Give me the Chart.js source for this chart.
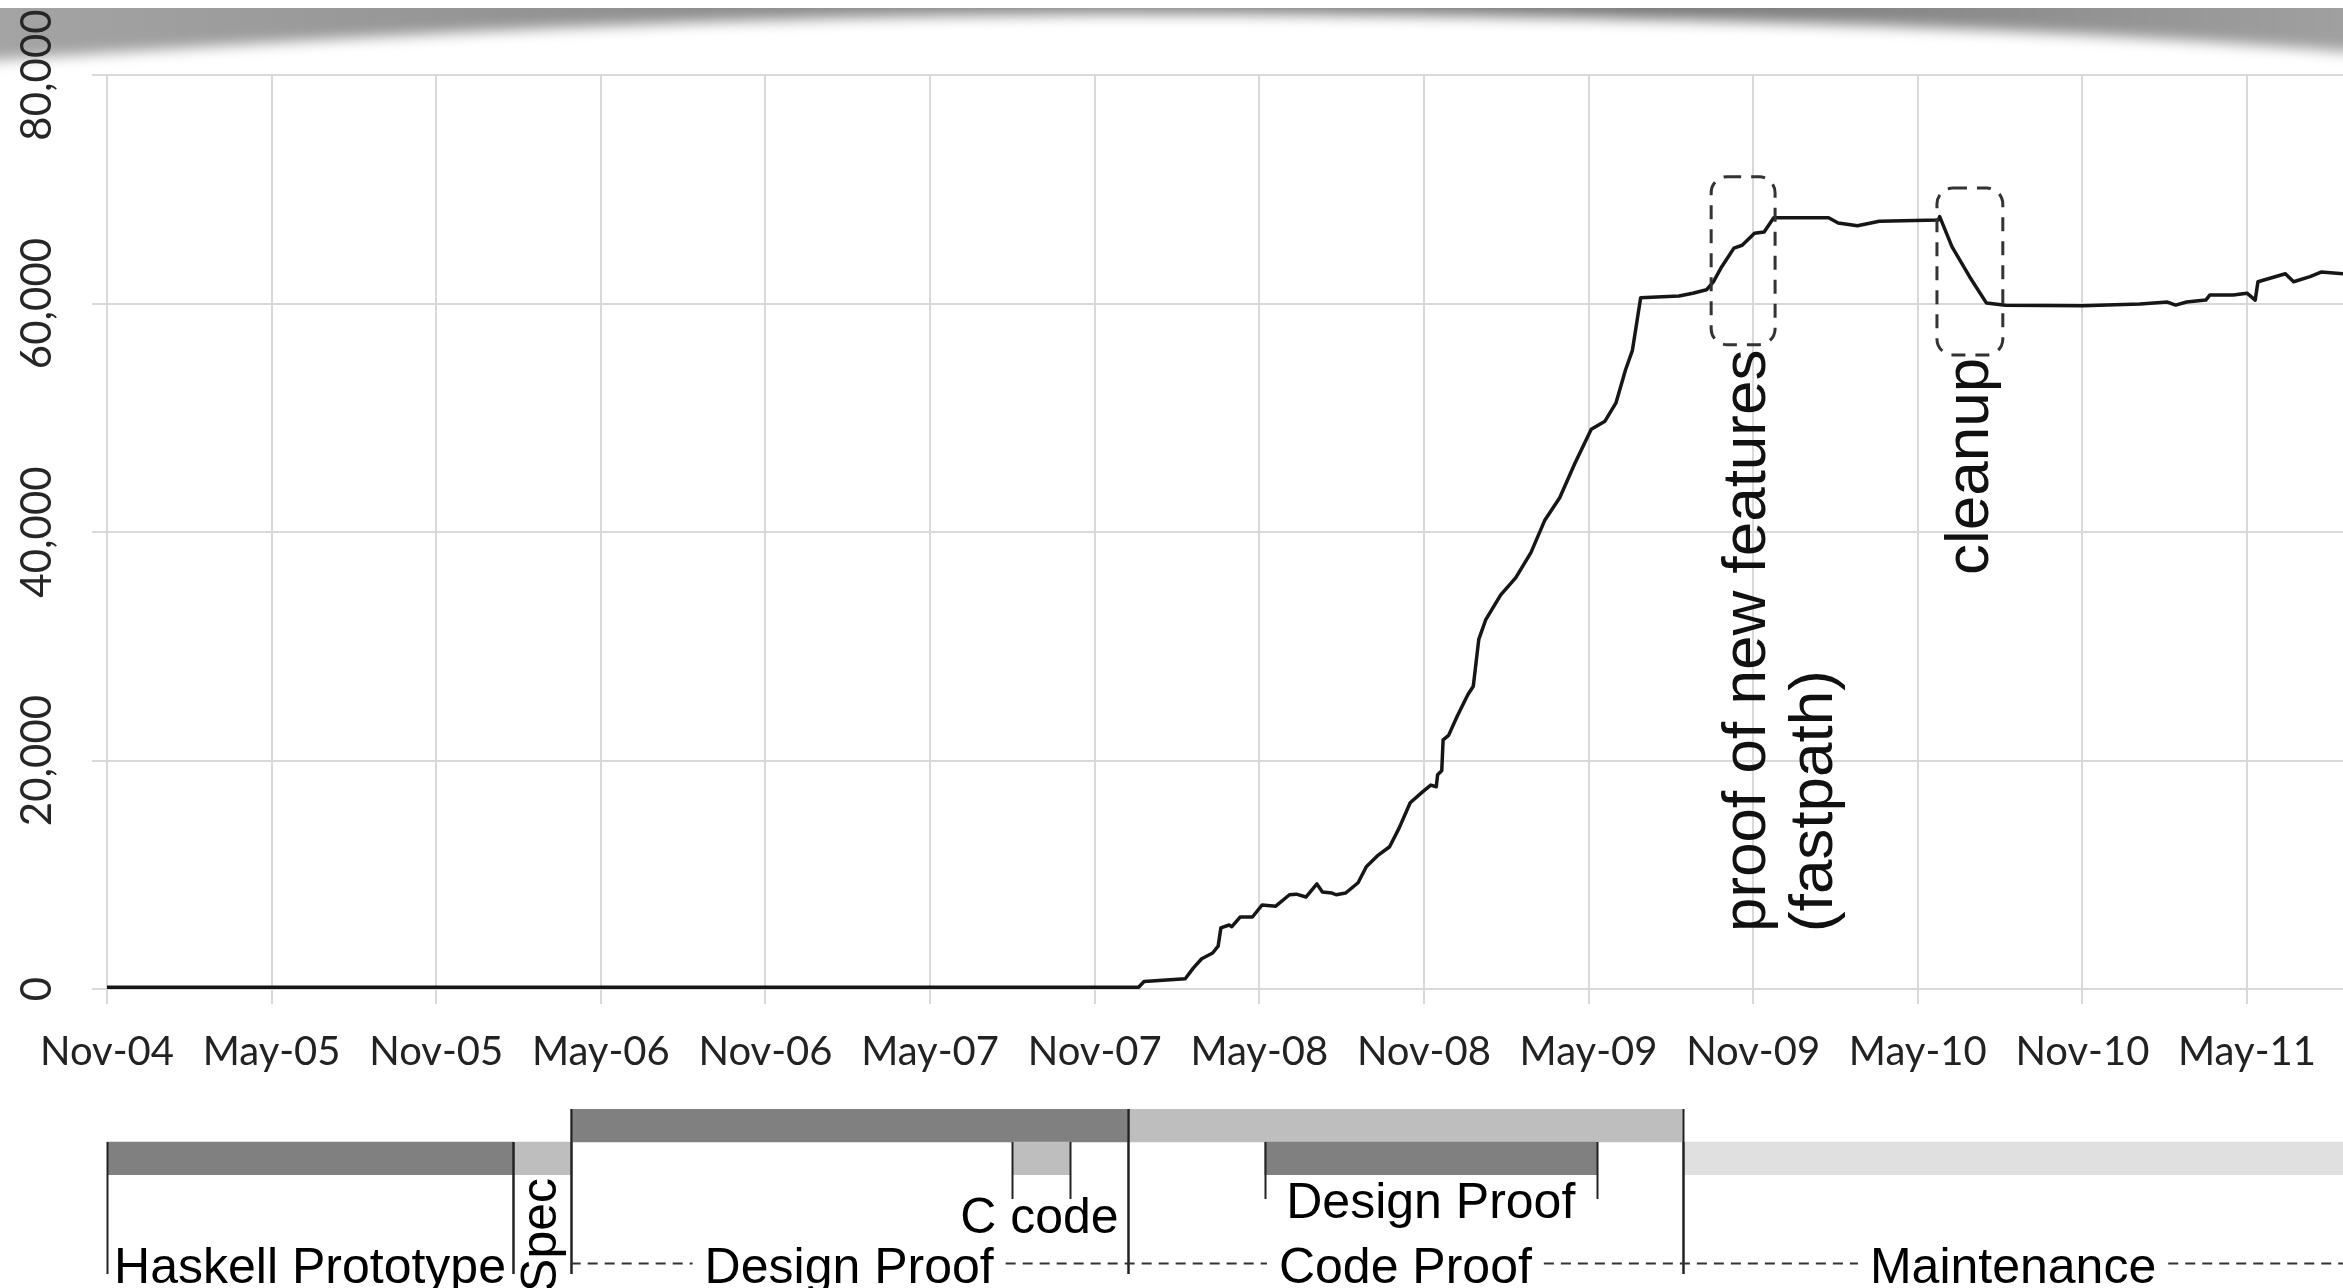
<!DOCTYPE html>
<html>
<head>
<meta charset="utf-8">
<script src="https://cdn.jsdelivr.net/npm/chart.js@4.4.1/dist/chart.umd.min.js"></script>
<style>
  html, body { margin: 0; padding: 0; background: #fff; }
  #wrap { position: relative; width: 2343px; height: 1288px; overflow: hidden; }
  #mainChart { position: absolute; left: 0; top: 0; }
  #phaseChart { position: absolute; left: 0; top: 1100px; }
</style>
</head>
<body>
<div id="wrap">
  <canvas id="mainChart" width="2343" height="1100"></canvas>
  <canvas id="phaseChart" width="2343" height="188"></canvas>
</div>
<script>
// x values are months counted from Nov 2004
const months = [0, 37.6, 37.8, 39.3, 39.6, 39.9, 40.3, 40.5, 40.6, 40.9, 41.0, 41.3, 41.75, 42.1, 42.6,
  43.1, 43.35, 43.7, 44.1, 44.3, 44.65, 44.8, 45.15, 45.6, 45.9, 46.3, 46.75, 47.1, 47.5, 47.95,
  48.25, 48.45, 48.5, 48.65, 48.7, 48.9, 49.2, 49.6, 49.8, 50.0, 50.25, 50.8, 51.35, 51.9, 52.4,
  52.95, 53.5, 54.1, 54.6, 55.0, 55.35, 55.6, 55.9, 57.3, 57.8, 58.3, 58.55, 58.85, 59.3, 59.6,
  60.05, 60.4, 60.75, 62.75, 63.1, 63.8, 64.6, 66.75, 66.8, 67.25, 67.9, 68.5, 69.2, 72.0, 74.1,
  75.1, 75.4, 75.8, 76.5, 76.65, 77.5, 78.0, 78.3, 78.4, 78.9, 79.4, 79.7, 80.3, 80.7, 81.5];
const proofLines = [150, 150, 650, 900, 1850, 2650, 3150, 3750, 5350, 5600, 5450, 6300, 6300, 7350, 7250,
  8250, 8300, 8050, 9200, 8500, 8400, 8250, 8400, 9300, 10700, 11650, 12450, 14100, 16300, 17250,
  17850, 17700, 18750, 19100, 21800, 22200, 23800, 25750, 26500, 30600, 32300, 34500, 36000, 38200, 41000,
  43000, 46000, 49000, 49700, 51300, 54200, 55900, 60500, 60650, 60900, 61200, 61900, 63200, 64850, 65100,
  66150, 66250, 67500, 67500, 67050, 66800, 67200, 67300, 67600, 64950, 62300, 60050, 59850, 59800, 59950,
  60130, 59860, 60130, 60300, 60750, 60750, 60900, 60300, 61900, 62250, 62600, 61900, 62350, 62750, 62600];

const xTickLabels = ['Nov-04', 'May-05', 'Nov-05', 'May-06', 'Nov-06', 'May-07', 'Nov-07',
  'May-08', 'Nov-08', 'May-09', 'Nov-09', 'May-10', 'Nov-10', 'May-11'];
const yTickLabels = ['0', '20,000', '40,000', '60,000', '80,000'];

// dashed callouts (months / lines)
const calloutX0 = [58.47, 66.7];
const calloutX1 = [60.8, 69.1];
const calloutYlow = [56400, 55500];
const calloutYhigh = [71100, 70100];
const noteLines = [['proof of new features', '(fastpath)'], ['cleanup']];
const noteX = [[59.82, 62.26], [67.94]];
const noteY = [4990, 36240];

// project phases
const phaseNames = ['Haskell Prototype', 'Spec', 'Design Proof', 'C code', 'Code Proof', 'Design Proof', 'Maintenance'];
const phaseStart = [0, 14.8, 16.9, 33.0, 37.2, 42.2, 57.45];
const phaseEnd = [14.8, 16.9, 37.2, 35.1, 57.45, 54.3, 81.5];
const phaseRow = ['lower', 'lower', 'upper', 'lower', 'upper', 'lower', 'lower'];
const phaseShade = ['dark', 'light', 'dark', 'light', 'light', 'dark', 'pale'];
const phaseLabelMode = ['main', 'vertical', 'dashed', 'right', 'dashed', 'sub', 'dashed'];

const shadeColors = { dark: '#808080', light: '#bebebe', pale: '#e0e0e0' };
const X_MAX = 81.5;

const topShade = {
  id: 'topShade',
  beforeDraw(chart) {
    const ctx = chart.ctx, W = chart.width;
    ctx.save();
    ctx.beginPath();
    ctx.rect(0, 8, W, 120);
    ctx.clip();
    const g = ctx.createLinearGradient(0, 0, W, 0);
    g.addColorStop(0, '#a4a4a4');
    g.addColorStop(0.3, '#8e8e8e');
    g.addColorStop(0.7, '#7a7a7a');
    g.addColorStop(1, '#a0a0a0');
    ctx.filter = 'blur(7px)';
    ctx.fillStyle = g;
    ctx.beginPath();
    ctx.moveTo(-30, -30);
    ctx.lineTo(W + 30, -30);
    ctx.lineTo(W + 30, 54);
    ctx.bezierCurveTo(2050, 26, 1600, 14, 1150, 14);
    ctx.bezierCurveTo(700, 14, 300, 40, -30, 62);
    ctx.closePath();
    ctx.fill();
    ctx.restore();
  }
};

const mainExtras = {
  id: 'mainExtras',
  afterDraw(chart) {
    const ctx = chart.ctx, xs = chart.scales.x, ys = chart.scales.y;
    ctx.save();
    // y tick labels, rotated
    ctx.font = '42px Lato';
    ctx.fillStyle = '#262626';
    ctx.textAlign = 'center';
    ctx.textBaseline = 'middle';
    ys.ticks.forEach((t, i) => {
      ctx.save();
      ctx.translate(37, ys.getPixelForValue(t.value));
      ctx.rotate(-Math.PI / 2);
      ctx.fillText(yTickLabels[i], 0, 0);
      ctx.restore();
    });
    // dashed callout boxes
    ctx.setLineDash([14, 10]);
    ctx.lineWidth = 3;
    ctx.strokeStyle = '#333';
    calloutX0.forEach((x0, i) => {
      const l = xs.getPixelForValue(x0), r = xs.getPixelForValue(calloutX1[i]);
      const t = ys.getPixelForValue(calloutYhigh[i]), b = ys.getPixelForValue(calloutYlow[i]);
      ctx.beginPath();
      ctx.roundRect(l, t, r - l, b - t, 16);
      ctx.stroke();
    });
    ctx.setLineDash([]);
    // rotated notes
    ctx.font = '62px "Liberation Sans", Arial, sans-serif';
    ctx.fillStyle = '#111';
    ctx.textAlign = 'left';
    noteLines.forEach((lines, i) => {
      lines.forEach((txt, j) => {
        ctx.save();
        ctx.translate(xs.getPixelForValue(noteX[i][j]), ys.getPixelForValue(noteY[i]));
        ctx.rotate(-Math.PI / 2);
        ctx.fillText(txt, 0, 0);
        ctx.restore();
      });
    });
    ctx.restore();
  }
};

new Chart(document.getElementById('mainChart'), {
  type: 'line',
  data: {
    datasets: [{
      data: months.map((m, i) => ({ x: m, y: proofLines[i] })),
      borderColor: '#161616',
      borderWidth: 3.5,
      pointRadius: 0,
      tension: 0,
      borderJoinStyle: 'round'
    }]
  },
  options: {
    responsive: false,
    animation: false,
    layout: { padding: { top: 75, left: 0, right: 0, bottom: 0 } },
    plugins: { legend: { display: false }, tooltip: { enabled: false } },
    scales: {
      x: {
        type: 'linear', min: 0, max: X_MAX,
        ticks: {
          stepSize: 6, includeBounds: false, autoSkip: false, minRotation: 0, maxRotation: 0,
          padding: 24, color: '#222', font: { family: 'Lato', size: 40 },
          callback: v => xTickLabels[Math.round(v / 6)] || ''
        },
        grid: { color: '#d9d9d9', lineWidth: 2, tickLength: 15 },
        border: { color: '#d9d9d9', width: 2 },
        afterFit: s => { s.height = 111; }
      },
      y: {
        min: 0, max: 80000,
        ticks: { stepSize: 20000, display: false },
        grid: { color: '#d9d9d9', lineWidth: 2, tickLength: 15 },
        border: { color: '#d9d9d9', width: 2 },
        afterFit: s => { s.width = 107; }
      }
    }
  },
  plugins: [topShade, mainExtras]
});

const phaseExtras = {
  id: 'phaseExtras',
  afterDraw(chart) {
    const ctx = chart.ctx, xs = chart.scales.x, area = chart.chartArea;
    const rowTop = { upper: area.top, lower: (area.top + area.bottom) / 2 };
    const longDepth = 174, shortDepth = 99, mainBase = 183, dashY = 163;
    ctx.save();
    ctx.strokeStyle = '#222';
    ctx.lineWidth = 2;
    // boundary lines
    phaseNames.forEach((n, i) => {
      const depth = phaseLabelMode[i] === 'right' || phaseLabelMode[i] === 'sub' ? shortDepth : longDepth;
      [phaseStart[i], phaseEnd[i]].forEach(v => {
        if (v >= X_MAX) return;
        const px = Math.round(xs.getPixelForValue(v)) + 0.5;
        ctx.beginPath();
        ctx.moveTo(px, rowTop[phaseRow[i]]);
        ctx.lineTo(px, depth);
        ctx.stroke();
      });
    });
    // labels
    ctx.font = '50px "Liberation Sans", Arial, sans-serif';
    ctx.fillStyle = '#000';
    ctx.textBaseline = 'alphabetic';
    const gaps = [];
    phaseNames.forEach((n, i) => {
      const l = xs.getPixelForValue(phaseStart[i]), r = xs.getPixelForValue(phaseEnd[i]);
      const mid = (l + r) / 2, w = ctx.measureText(n).width;
      const mode = phaseLabelMode[i];
      if (mode === 'main' || mode === 'dashed') {
        ctx.textAlign = 'center';
        ctx.fillText(n, mid, mainBase);
        if (mode === 'dashed') gaps.push([mid - w / 2 - 12, mid + w / 2 + 12]);
      } else if (mode === 'sub') {
        ctx.textAlign = 'center';
        ctx.fillText(n, mid, 118);
      } else if (mode === 'right') {
        // right-aligned against the end of the enclosing upper phase
        const k = phaseNames.findIndex((m, j) => phaseRow[j] === 'upper' && phaseStart[j] <= phaseStart[i] && phaseEnd[j] >= phaseEnd[i]);
        ctx.textAlign = 'right';
        ctx.fillText(n, xs.getPixelForValue(phaseEnd[k]) - 9, 133);
      } else if (mode === 'vertical') {
        ctx.save();
        ctx.translate(mid, 78);
        ctx.rotate(-Math.PI / 2);
        ctx.textAlign = 'right';
        ctx.textBaseline = 'middle';
        ctx.fillText(n, 0, 0);
        ctx.restore();
      }
    });
    // dashed baseline from the design phase on
    const first = phaseNames.findIndex((n, i) => phaseLabelMode[i] === 'dashed');
    let x = xs.getPixelForValue(phaseStart[first]);
    ctx.setLineDash([10, 7]);
    ctx.lineWidth = 2;
    ctx.strokeStyle = '#333';
    gaps.sort((a, b) => a[0] - b[0]).concat([[area.right + 20, area.right + 20]]).forEach(g => {
      ctx.beginPath();
      ctx.moveTo(x, dashY + 0.5);
      ctx.lineTo(Math.min(g[0], area.right), dashY + 0.5);
      ctx.stroke();
      x = g[1];
    });
    ctx.restore();
  }
};

new Chart(document.getElementById('phaseChart'), {
  type: 'bar',
  data: {
    labels: ['upper', 'lower'],
    datasets: [{
      data: phaseNames.map((n, i) => ({ y: phaseRow[i], x: [phaseStart[i], phaseEnd[i]] })),
      backgroundColor: phaseShade.map(s => shadeColors[s]),
      borderWidth: 0,
      barPercentage: 1,
      categoryPercentage: 1
    }]
  },
  options: {
    indexAxis: 'y',
    responsive: false,
    animation: false,
    layout: { padding: { left: 107, right: 0, top: 9, bottom: 113 } },
    plugins: { legend: { display: false }, tooltip: { enabled: false } },
    scales: {
      x: { type: 'linear', min: 0, max: X_MAX, display: false },
      y: { type: 'category', display: false }
    }
  },
  plugins: [phaseExtras]
});
</script>
</body>
</html>
